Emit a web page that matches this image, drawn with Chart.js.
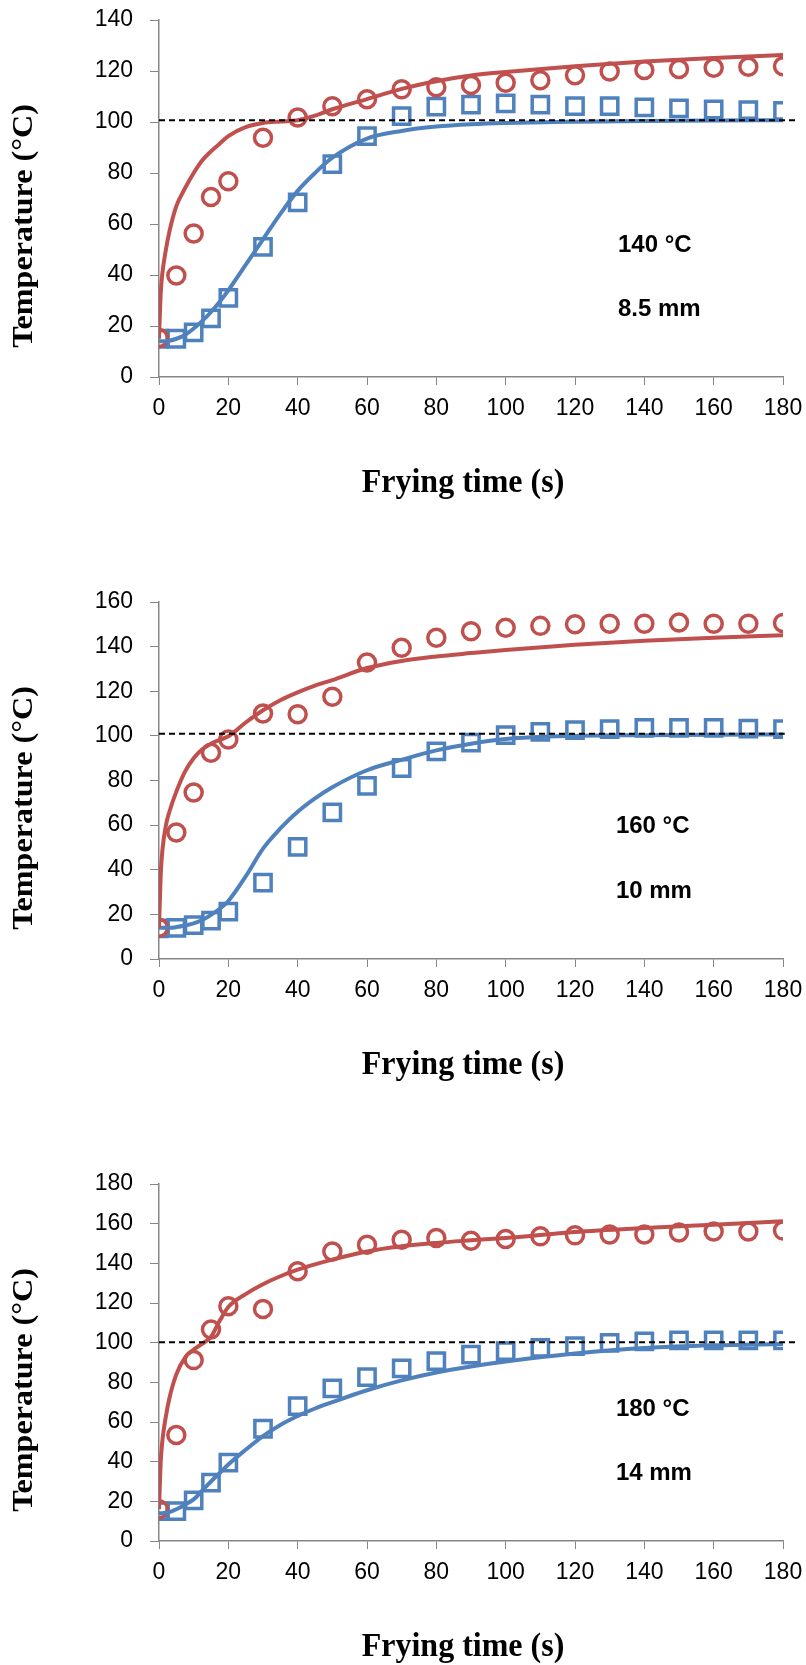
<!DOCTYPE html>
<html lang="en">
<head>
<meta charset="UTF-8">
<title>Frying temperature profiles</title>
<script src="https://cdn.jsdelivr.net/npm/chart.js"></script>
<style>
  body { margin: 0; background: #fff; width: 806px; height: 1665px; overflow: hidden; position: relative; }
  .panel { position: absolute; left: 0; }
</style>
</head>
<body>
<div class="panel" style="top:0"><canvas id="chart140" width="806" height="502"></canvas></div>
<div class="panel" style="top:582px"><canvas id="chart160" width="806" height="502"></canvas></div>
<div class="panel" style="top:1164px"><canvas id="chart180" width="806" height="502"></canvas></div>

<script>
// measured sampling times (s)
const markerTimes = [0, 5, 10, 15, 20, 30, 40, 50, 60, 70, 80, 90, 100, 110, 120, 130, 140, 150, 160, 170, 180];
// times for the model curves (s)
const fitTimes = [0, 0.5, 1, 2, 3, 5, 7.5, 10, 12.5, 15, 17.5, 20, 25, 30, 35, 40, 45, 50, 60, 70, 80, 90, 100, 120, 140, 160, 180];

// 140 °C oil, 8.5 mm
const surface140 = [15.3, 39.8, 56.3, 70.6, 76.8, 93.8, 101.8, 106.2, 108.9, 112.8, 113.6, 114.5, 115.4, 116.4, 118.3, 119.8, 120.4, 120.8, 121.3, 121.7, 121.9];
const core140 = [15, 15, 17.5, 23, 31, 51, 68.5, 83.5, 94.5, 102.3, 106, 106.8, 107.3, 106.8, 106.2, 106.2, 105.7, 105.3, 104.9, 104.7, 104.4];
const surfaceFit140 = [15, 33, 41, 50, 57, 67, 74, 80, 85, 88.5, 91.5, 94.5, 98, 99.6, 100.2, 100.7, 102.5, 105, 109, 113, 116, 118.2, 119.6, 121.9, 123.7, 125.1, 126.3];
const coreFit140 = [14, 14, 14, 14, 14.2, 15, 16.5, 19, 22, 25.5, 29.5, 34, 44, 54, 64, 73, 80, 86, 93.5, 96.5, 98.2, 99.1, 99.6, 100.1, 100.4, 100.6, 100.7];

// 160 °C oil, 10 mm
const surface160 = [14, 56.7, 74.6, 92.4, 98.4, 110, 109.7, 117.5, 132.9, 139.5, 144, 146.9, 148.5, 149.3, 150, 150.3, 150.3, 150.8, 150.3, 150.3, 150.6];
const core160 = [13.7, 14, 15.2, 17.2, 21.2, 34.2, 50.3, 65.7, 77.6, 85.6, 93.1, 97, 100.3, 101.8, 102.6, 103, 103.6, 103.6, 103.6, 103.3, 103];
const surfaceFit160 = [14, 38, 49, 60, 66, 75, 84, 90, 94, 96.5, 98.2, 99.8, 106, 111.5, 116, 119.5, 122.5, 125, 130.4, 133.6, 135.6, 137.1, 138.5, 140.8, 142.6, 144, 145.1];
const coreFit160 = [14, 14, 14, 14, 14, 14.3, 15, 16, 17.5, 19.8, 22.5, 26, 37, 49.5, 58.5, 66, 72, 77, 84.6, 89.3, 93.5, 96.5, 98.6, 100, 100.3, 100.5, 100.6];

// 180 °C oil, 14 mm
const surface180 = [16, 53.4, 91.2, 106.6, 118.4, 117, 136, 146, 149.4, 151.9, 152.8, 151.4, 152.3, 153.6, 154.1, 154.5, 154.5, 155.6, 156.1, 156.1, 156.5];
const core180 = [15.1, 15.1, 20.5, 29.4, 39.5, 56.6, 68, 76.9, 82.6, 87, 90.7, 94, 95.7, 97.4, 98.2, 99.9, 100.7, 101.1, 101.1, 101.1, 101.1];
const surfaceFit180 = [16, 40, 51, 63, 72, 84, 92.5, 96.5, 99.5, 103, 111, 118, 124.5, 129.5, 133.5, 136.8, 139.5, 141.9, 146, 148.6, 150.3, 151.6, 152.8, 155.8, 157.8, 159.5, 161.2];
const coreFit180 = [14, 14, 14, 14.2, 14.6, 16, 18.3, 21, 25.5, 30, 34.3, 38.6, 46, 52.9, 58.5, 63, 66.8, 70, 76, 81, 85, 88, 90.5, 94.5, 97.3, 98.7, 99.3];

// boiling reference line (°C) and where it stops (s)
const boilLevel = [100.7, 100.9, 100.2];
const boilEnd = [184, 180.5, 184];
const yMax = [140, 160, 180];

const xTitle = 'Frying time (s)';
const yTitle = 'Temperature (°C)';

const RED = '#C0504D';
const BLUE = '#4F81BD';
const AXIS = '#868686';
const tickFont = { family: '"Liberation Sans", Arial, sans-serif', size: 23 };
const serif = '"Liberation Serif", "Times New Roman", serif';

const pts = (xs, ys) => xs.map((x, i) => ({ x: x, y: ys[i] }));

// bold condition labels inside the plot
const notesPlugin = {
    id: 'notes',
    afterDatasetsDraw(chart, args, opts) {
        const { ctx, scales: { x, y } } = chart;
        ctx.save();
        ctx.font = 'bold 24px "Liberation Sans", Arial, sans-serif';
        ctx.fillStyle = '#000';
        ctx.textBaseline = 'middle';
        ctx.textAlign = 'left';
        (opts.items || []).forEach(n => {
            ctx.fillText(n.text, x.getPixelForValue(n.x), y.getPixelForValue(n.y));
        });
        ctx.restore();
    }
};

// axis titles, a little taller than wide like the Word export
const titlesPlugin = {
    id: 'axisTitles',
    afterDraw(chart) {
        const { ctx, chartArea: a } = chart;
        const stretch = 1.07;
        ctx.save();
        ctx.fillStyle = '#000';
        ctx.textAlign = 'center';
        ctx.textBaseline = 'middle';

        ctx.save();
        ctx.translate(a.left + 304, a.bottom + 106);
        ctx.scale(1, stretch);
        ctx.font = 'bold 32px ' + serif;
        ctx.fillText(xTitle, 0, 0);
        ctx.restore();

        ctx.save();
        ctx.translate(24, a.top + 206);
        ctx.rotate(-Math.PI / 2);
        ctx.scale(stretch, 1);
        ctx.font = 'bold 30px ' + serif;
        ctx.fillText(yTitle, 0, 0);
        ctx.restore();

        ctx.restore();
    }
};

function makeChart(id, k, surface, core, surfaceFit, coreFit, notes) {
    new Chart(document.getElementById(id), {
        type: 'scatter',
        data: {
            datasets: [
                {
                    label: 'boiling',
                    data: [{ x: 0, y: boilLevel[k] }, { x: boilEnd[k], y: boilLevel[k] }],
                    showLine: true,
                    borderColor: '#000',
                    borderWidth: 2,
                    borderDash: [6, 4],
                    pointRadius: 0,
                    clip: false,
                    order: 0
                },
                {
                    label: 'surface model',
                    data: pts(fitTimes, surfaceFit),
                    showLine: true,
                    borderColor: RED,
                    borderWidth: 4,
                    pointRadius: 0,
                    cubicInterpolationMode: 'monotone',
                    order: 1
                },
                {
                    label: 'core model',
                    data: pts(fitTimes, coreFit),
                    showLine: true,
                    borderColor: BLUE,
                    borderWidth: 4,
                    pointRadius: 0,
                    cubicInterpolationMode: 'monotone',
                    order: 2
                },
                {
                    label: 'surface',
                    data: pts(markerTimes, surface),
                    pointStyle: 'circle',
                    pointRadius: 8.5,
                    borderWidth: 3.5,
                    borderColor: RED,
                    backgroundColor: 'rgba(0,0,0,0)',
                    order: 3
                },
                {
                    label: 'core',
                    data: pts(markerTimes, core),
                    pointStyle: 'rect',
                    pointRadius: 11.5,
                    borderWidth: 3.5,
                    borderColor: BLUE,
                    backgroundColor: 'rgba(0,0,0,0)',
                    order: 4
                }
            ]
        },
        options: {
            responsive: false,
            animation: false,
            events: [],
            layout: { padding: { top: 20, right: 23, bottom: 0, left: 0 } },
            plugins: {
                legend: { display: false },
                tooltip: { enabled: false },
                notes: { items: notes }
            },
            scales: {
                x: {
                    type: 'linear',
                    min: 0,
                    max: 180,
                    ticks: { stepSize: 20, color: '#000', font: tickFont, padding: 10, maxRotation: 0 },
                    grid: { drawOnChartArea: false, drawTicks: true, tickLength: 8, color: AXIS },
                    border: { color: AXIS, width: 1.5 },
                    afterFit: s => {
                        s.height = 125;
                        s.paddingLeft = 0;
                        s.paddingRight = 0;
                    }
                },
                y: {
                    min: 0,
                    max: yMax[k],
                    ticks: { stepSize: 20, color: '#000', font: tickFont, padding: 17 },
                    grid: { drawOnChartArea: false, drawTicks: true, tickLength: 9, color: AXIS },
                    border: { color: AXIS, width: 1.5 },
                    afterFit: s => {
                        s.width = 159;
                        s.paddingTop = 0;
                        s.paddingBottom = 0;
                    }
                }
            }
        },
        plugins: [notesPlugin, titlesPlugin]
    });
}

makeChart('chart140', 0, surface140, core140, surfaceFit140, coreFit140,
    [{ text: '140 °C', x: 132.4, y: 51.7 }, { text: '8.5 mm', x: 132.4, y: 26.5 }]);
makeChart('chart160', 1, surface160, core160, surfaceFit160, coreFit160,
    [{ text: '160 °C', x: 131.8, y: 59.3 }, { text: '10 mm', x: 131.8, y: 30.5 }]);
makeChart('chart180', 2, surface180, core180, surfaceFit180, coreFit180,
    [{ text: '180 °C', x: 131.8, y: 66.3 }, { text: '14 mm', x: 131.8, y: 34.1 }]);
</script>
</body>
</html>
